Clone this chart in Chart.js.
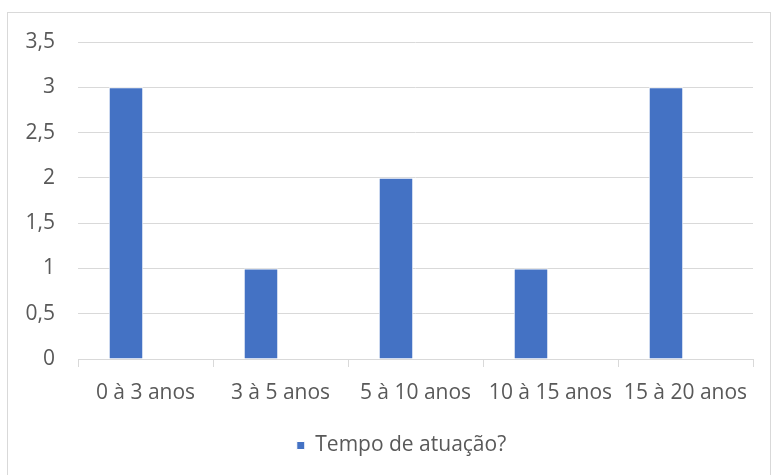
<!DOCTYPE html>
<html>
<head>
<meta charset="utf-8">
<script src="https://cdn.jsdelivr.net/npm/chart.js@4"></script>
<style>
  body { margin: 0; background: #fff; }
  #box { position: absolute; left: 7px; top: 12px; width: 762px; height: 470px; border: 1px solid #d9d9d9; }
  #myChart { display: block; }
</style>
</head>
<body>
<div id="box"><canvas id="myChart" width="762" height="470"></canvas></div>
<script>
const categorias = ['0 à 3 anos', '3 à 5 anos', '5 à 10 anos', '10 à 15 anos', '15 à 20 anos'];
const tempo = [3, 1, 2, 1, 3];
const vazio = [null, null, null, null, null];
const ticksY = [0, 0.5, 1, 1.5, 2, 2.5, 3, 3.5];

const texto = '#595959';
const grade = '#d9d9d9';
const fonte = { family: "'Open Sans', sans-serif", size: 21 };

const ctx = document.getElementById('myChart');

// a legenda do original fica um pouco a direita do centro
const moverLegenda = {
    id: 'moverLegenda',
    afterLayout(chart) {
        chart.legend.left += 21;
        chart.legend.right += 21;
    }
};

const myChart = new Chart(ctx, {
    type: 'bar',
    data: {
        labels: categorias,
        datasets: [{
            label: 'Tempo de atuação?',
            data: tempo,
            backgroundColor: '#4472c4',
            borderColor: '#ffffff',
            borderWidth: 1,
            categoryPercentage: 0.578,
            barPercentage: 0.885
        }, {
            label: '',
            data: vazio,
            backgroundColor: 'rgba(0,0,0,0)',
            categoryPercentage: 0.578,
            barPercentage: 0.885
        }]
    },
    options: {
        responsive: false,
        animation: false,
        layout: { padding: { top: 29, right: 17, bottom: 17, left: 0 } },
        plugins: {
            tooltip: { enabled: false },
            legend: {
                position: 'bottom',
                labels: {
                    color: texto,
                    font: fonte,
                    boxWidth: 8,
                    boxHeight: 8,
                    padding: 10,
                    filter: (item) => item.datasetIndex === 0
                }
            }
        },
        scales: {
            x: {
                grid: { display: true, drawOnChartArea: false, drawTicks: true, tickLength: 8, color: grade },
                border: { display: true, color: grade },
                ticks: { color: texto, font: fonte, padding: 13, maxRotation: 0 },
                afterFit: (s) => { s.height = 66; s.paddingLeft = 0; s.paddingRight = 0; }
            },
            y: {
                min: 0,
                max: 3.5,
                afterBuildTicks: (s) => { s.ticks = ticksY.map(v => ({ value: v })); },
                grid: { color: grade, drawTicks: false },
                border: { display: false },
                ticks: {
                    color: texto,
                    font: fonte,
                    padding: 23,
                    callback: (v) => String(v).replace('.', ',')
                },
                afterFit: (s) => { s.width = 70; s.paddingTop = 0; s.paddingBottom = 0; }
            }
        }
    },
    plugins: [moverLegenda]
});
</script>
</body>
</html>
